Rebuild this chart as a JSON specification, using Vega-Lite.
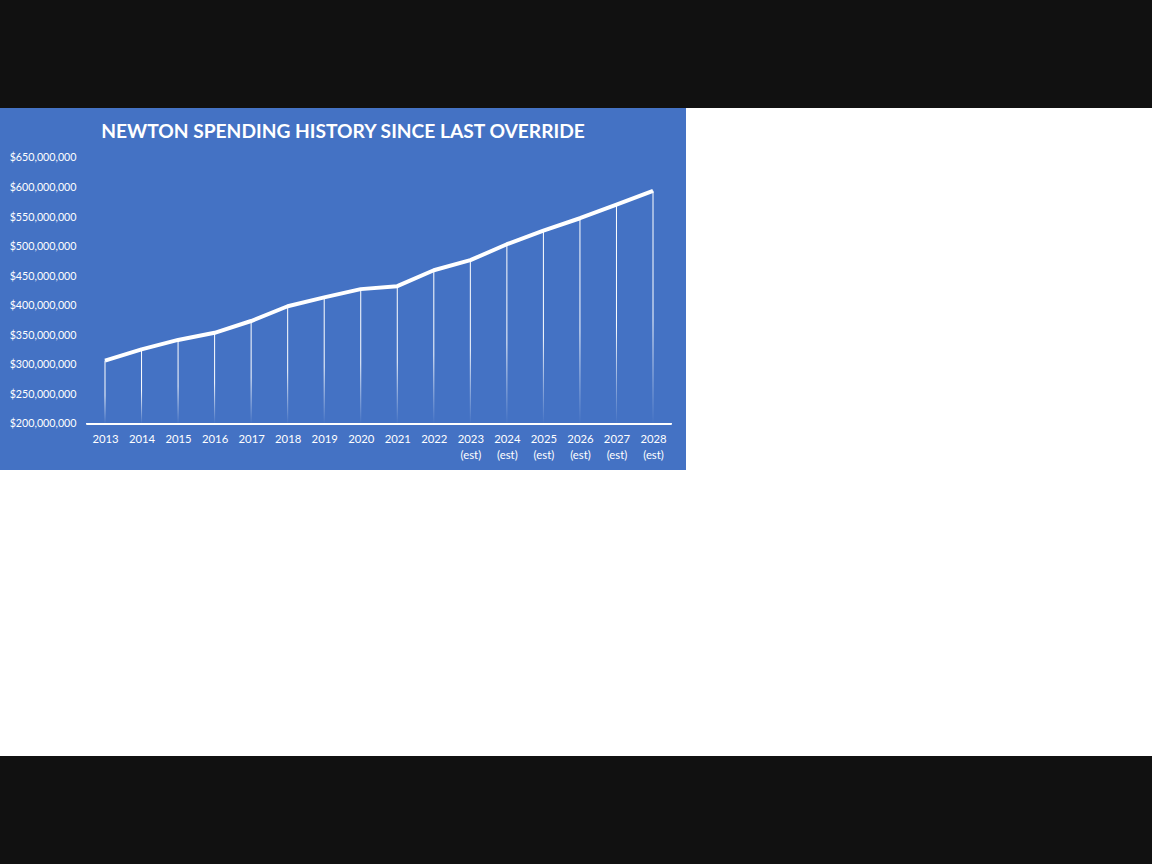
{
  "$schema": "https://vega.github.io/schema/vega-lite/v6.json",
  "padding": 0,
  "background": "#ffffff",
  "spacing": 0,
  "config": {
    "view": {"stroke": null},
    "font": "Lato"
  },
  "vconcat": [
    {
      "width": 1152,
      "height": 108,
      "view": {"fill": "#111111", "stroke": null},
      "data": {"values": []},
      "mark": "point"
    },
    {
      "width": 686,
      "height": 362,
      "view": {"fill": "#4472C4", "stroke": null},
      "title": {
        "text": "NEWTON SPENDING HISTORY SINCE LAST OVERRIDE",
        "color": "#ffffff",
        "font": "Lato",
        "fontSize": 19.2,
        "fontWeight": "bold",
        "anchor": "middle",
        "frame": "group",
        "baseline": "alphabetic",
        "offset": -49
      },
      "data": {
        "values": [
          {"year": 2013, "value": 307000000},
          {"year": 2014, "value": 326000000},
          {"year": 2015, "value": 342000000},
          {"year": 2016, "value": 354000000},
          {"year": 2017, "value": 374000000},
          {"year": 2018, "value": 399000000},
          {"year": 2019, "value": 414000000},
          {"year": 2020, "value": 428000000},
          {"year": 2021, "value": 433000000},
          {"year": 2022, "value": 460000000},
          {"year": 2023, "value": 477000000},
          {"year": 2024, "value": 504000000},
          {"year": 2025, "value": 527000000},
          {"year": 2026, "value": 548000000},
          {"year": 2027, "value": 571000000},
          {"year": 2028, "value": 594500000}
        ]
      },
      "encoding": {
        "x": {
          "field": "year",
          "type": "quantitative",
          "scale": {"domain": [2010.126, 2028.903], "nice": false, "zero": false, "padding": 0},
          "axis": {
            "orient": "bottom",
            "offset": -46.2,
            "domain": false,
            "ticks": false,
            "grid": false,
            "title": null,
            "values": [2013, 2014, 2015, 2016, 2017, 2018, 2019, 2020, 2021, 2022, 2023, 2024, 2025, 2026, 2027, 2028],
            "format": "d",
            "labelAngle": 0,
            "labelFlush": false,
            "labelOverlap": false,
            "labelColor": "#ffffff",
            "labelFont": "Lato",
            "labelFontSize": 11.3,
            "labelPadding": 10,
            "labelLineHeight": 16,
            "labelExpr": "datum.value >= 2023 ? [datum.label, '(est)'] : datum.label"
          }
        },
        "y": {
          "field": "value",
          "type": "quantitative",
          "scale": {"domain": [121780000, 734650000], "nice": false, "zero": false, "padding": 0},
          "axis": {
            "orient": "left",
            "offset": -78,
            "domain": false,
            "ticks": false,
            "grid": false,
            "title": null,
            "values": [200000000, 250000000, 300000000, 350000000, 400000000, 450000000, 500000000, 550000000, 600000000, 650000000],
            "format": "$,.0f",
            "labelColor": "#ffffff",
            "labelFont": "Lato",
            "labelFontSize": 10.7,
            "labelPadding": 2
          }
        }
      },
      "layer": [
        {
          "mark": {
            "type": "bar",
            "size": 1,
            "fill": {
              "gradient": "linear",
              "x1": 0, "y1": 0, "x2": 0, "y2": 1,
              "stops": [
                {"offset": 0, "color": "#ffffff"},
                {"offset": 0.55, "color": "#ffffff"},
                {"offset": 1, "color": "#4472C4"}
              ]
            }
          },
          "encoding": {
            "y2": {"datum": 200000000}
          }
        },
        {
          "mark": {"type": "rule", "color": "#ffffff", "strokeWidth": 1},
          "encoding": {
            "x": {"datum": 2012.5},
            "x2": {"datum": 2028.5},
            "y": {"datum": 200000000}
          }
        },
        {
          "mark": {"type": "line", "color": "#ffffff", "strokeWidth": 4, "strokeJoin": "round"},
          "encoding": {}
        }
      ]
    },
    {
      "width": 1152,
      "height": 286,
      "view": {"fill": "#ffffff", "stroke": null},
      "data": {"values": []},
      "mark": "point"
    },
    {
      "width": 1152,
      "height": 108,
      "view": {"fill": "#111111", "stroke": null},
      "data": {"values": []},
      "mark": "point"
    }
  ]
}
